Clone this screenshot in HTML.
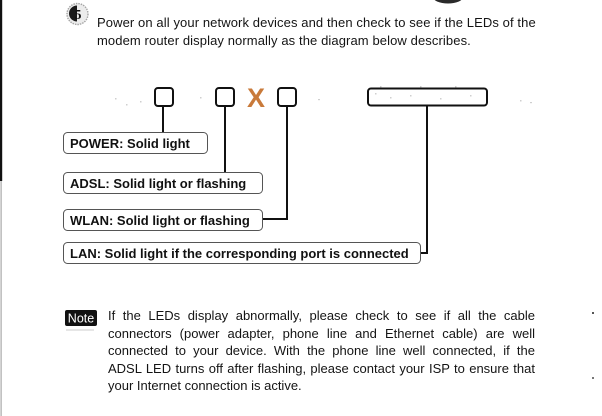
<!DOCTYPE html>
<html>
<head>
<meta charset="utf-8">
<style>
  html,body{margin:0;padding:0;background:#fff;}
  body{width:602px;height:416px;position:relative;overflow:hidden;
       font-family:"Liberation Sans",Arial,sans-serif;color:#141414;}
  .t{position:absolute;font-size:13px;line-height:15px;white-space:nowrap;}
  .m{letter-spacing:0.1px;}
  .j{position:absolute;font-size:13px;line-height:15px;width:427px;left:108px;
     text-align:justify;text-align-last:justify;white-space:normal;}
  .b{position:absolute;font-size:13px;line-height:15px;font-weight:bold;white-space:nowrap;left:70px;color:#111;}
  svg{position:absolute;left:0;top:0;}
</style>
</head>
<body>
<svg width="602" height="416" viewBox="0 0 602 416">
  <!-- left edge -->
  <rect x="0" y="0" width="2.2" height="181" fill="#111"/>
  <rect x="0.5" y="181" width="1.2" height="235" fill="#a8a8a8"/>
  <!-- top-right blob -->
  <ellipse cx="448" cy="-3" rx="15" ry="6.5" fill="#2a2a2a"/>
  <!-- step icon -->
  <circle cx="77.5" cy="14" r="10.5" fill="#ececec" stroke="#a5a5a5" stroke-width="1.4" stroke-dasharray="1.5 1"/>
  <path d="M77 5.5 A8 8 0 0 0 77 21.5 Z" fill="#1a1a1a"/>
  <text x="78" y="19" font-family="Liberation Serif,serif" font-weight="bold" font-size="14" fill="#111" text-anchor="middle">5</text>

  <!-- LEDs -->
  <g fill="none" stroke="#111" stroke-width="2">
    <rect x="155" y="88" width="18" height="18" rx="3"/>
    <rect x="216" y="88" width="18" height="18" rx="3"/>
    <rect x="278" y="88" width="18" height="18" rx="3"/>
    <rect x="368" y="88.5" width="119" height="17" rx="3"/>
  </g>
  <text x="256" y="107" font-family="Liberation Sans,Arial,sans-serif" font-weight="bold" font-size="27" fill="#c97a3a" text-anchor="middle">X</text>

  <!-- speckle noise -->
  <g fill="#cfcfcf">
    <rect x="115" y="98" width="1.5" height="1.5"/><rect x="126" y="104" width="1.5" height="1.5"/>
    <rect x="140" y="101" width="1.5" height="1.5"/><rect x="200" y="97" width="1.5" height="1.5"/>
    <rect x="318" y="99" width="2" height="1.2"/><rect x="530" y="102" width="2" height="1.2"/>
    <rect x="520" y="100" width="1.5" height="1.5"/><rect x="375" y="93" width="1.5" height="1.5"/>
    <rect x="390" y="97" width="1.5" height="1.5"/><rect x="410" y="95" width="1.5" height="1.5"/>
    <rect x="440" y="98" width="1.5" height="1.5"/><rect x="470" y="95" width="1.5" height="1.5"/>
    <rect x="380" y="86" width="1.5" height="1.5"/><rect x="420" y="86" width="1.5" height="1.5"/>
    <rect x="455" y="86" width="1.5" height="1.5"/>
  </g>
  <rect x="592" y="312" width="2" height="2" fill="#555"/>
  <rect x="592" y="377" width="2" height="2" fill="#777"/>

  <!-- connectors -->
  <g fill="none" stroke="#111" stroke-width="2">
    <line x1="163" y1="106" x2="163" y2="132"/>
    <line x1="225" y1="106" x2="225" y2="172"/>
    <polyline points="287,106 287,219 262,219"/>
    <polyline points="427,106 427,253 420,253"/>
  </g>

  <!-- label boxes -->
  <g fill="none" stroke="#555" stroke-width="1">
    <rect x="63.5" y="132.5" width="144" height="21" rx="4"/>
    <rect x="63.5" y="172.5" width="199" height="21" rx="4"/>
    <rect x="63.5" y="209.5" width="199" height="21" rx="4"/>
    <rect x="63.5" y="242.5" width="357" height="21" rx="4"/>
  </g>

  <!-- Note badge -->
  <rect x="65" y="310" width="32" height="16" rx="2" fill="#111"/>
  <text x="81" y="322.5" font-family="Liberation Sans,Arial,sans-serif" font-size="12.5" fill="#fff" text-anchor="middle">Note</text>
  <line x1="66" y1="330" x2="94" y2="330" stroke="#ccc" stroke-width="1"/>
</svg>

<div class="t m" style="left:97px;top:15px;">Power on all your network devices and then check to see if the LEDs of the</div>
<div class="t m" style="left:97px;top:33px;">modem router display normally as the diagram below describes.</div>

<div class="b" style="top:136px;">POWER: Solid light</div>
<div class="b" style="top:176px;">ADSL: Solid light or flashing</div>
<div class="b" style="top:213px;">WLAN: Solid light or flashing</div>
<div class="b" style="top:246px;">LAN: Solid light if the corresponding port is connected</div>

<div class="j" style="top:308px;">If the LEDs display abnormally, please check to see if all the cable</div>
<div class="j" style="top:325.5px;">connectors (power adapter, phone line and Ethernet cable) are well</div>
<div class="j" style="top:343px;">connected to your device. With the phone line well connected, if the</div>
<div class="j" style="top:360.5px;">ADSL LED turns off after flashing, please contact your ISP to ensure that</div>
<div class="t" style="left:108px;top:378px;">your Internet connection is active.</div>
</body>
</html>
